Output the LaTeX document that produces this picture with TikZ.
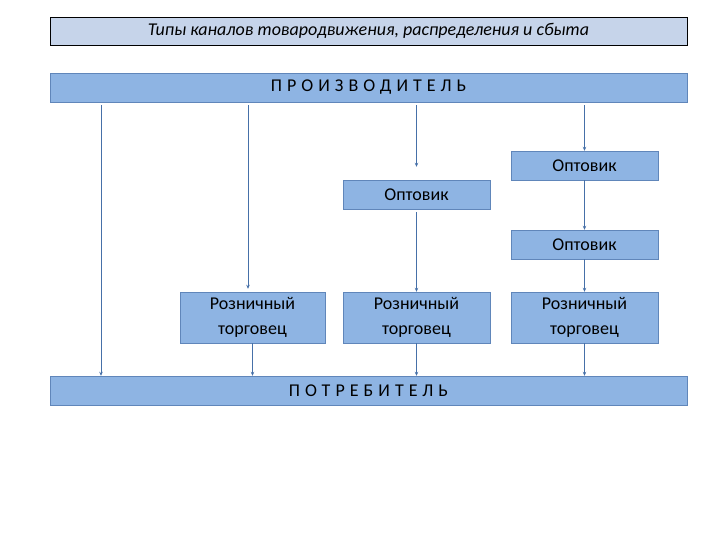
\documentclass[tikz,border=0pt]{standalone}
\usepackage{fontspec}
\setmainfont{Carlito}
\usetikzlibrary{arrows.meta}
\definecolor{barblue}{RGB}{142,180,227}
\definecolor{boxline}{RGB}{96,134,186}
\definecolor{titlefill}{RGB}{198,212,234}
\definecolor{arrowblue}{RGB}{70,112,168}

\begin{document}
\begin{tikzpicture}[x=1pt,y=-1pt,
  bar/.style={draw=boxline, fill=barblue, minimum width=637pt, minimum height=29pt, inner sep=0pt, font=\fontsize{18}{20}\selectfont\addfontfeatures{LetterSpace=28}},
  firm/.style={draw=boxline, fill=barblue, minimum width=147pt, minimum height=29pt, inner sep=0pt, align=center, font=\fontsize{18}{25}\selectfont},
  flow/.style={arrowblue, line width=0.9pt, shorten <=3pt, -{Stealth[length=4pt,width=3.5pt]}}]
  \useasboundingbox (0,0) rectangle (720,540);

%title:
  \node[draw=black, fill=titlefill, minimum width=637pt, minimum height=28pt, inner sep=0pt, font=\fontsize{18}{20}\selectfont\itshape] (title) at (368.5,31) {Типы каналов товародвижения, распределения и сбыта};

%bars:
  \node[bar] (prod) at (368.5,87.5) {ПРОИЗВОДИТЕЛЬ};
  \node[bar] (cons) at (368.5,390.5) {ПОТРЕБИТЕЛЬ};

%wholesalers:
  \node[firm] (opt1) at (584.5,165.5) {Оптовик};
  \node[firm] (opt2) at (416.5,194.5) {Оптовик};
  \node[firm] (opt3) at (584.5,244.5) {Оптовик};

%retailers:
  \node[firm, minimum width=145pt, minimum height=51pt] (ret1) at (252.5,317.5) {Розничный\\торговец};
  \node[firm, minimum height=51pt] (ret2) at (416.5,317.5) {Розничный\\торговец};
  \node[firm, minimum height=51pt] (ret3) at (584.5,317.5) {Розничный\\торговец};

  \coordinate (direct) at (101,0);
  \coordinate (retail) at (248,0);

%channels:
  \draw[flow] (prod.south -| direct) -- (cons.north -| direct);
  \draw[flow, shorten >=3pt] (prod.south -| retail) -- (ret1.north -| retail);
  \draw[flow] (prod.south -| opt2) -- ([yshift=13pt]opt2.north);
  \draw[flow] (opt2) -- (ret2);
  \draw[flow] (prod.south -| opt1) -- (opt1.north);
  \draw[flow, shorten <=0pt] (opt1.south) -- (opt3.north);
  \draw[flow, shorten <=0pt] (opt3.south) -- (ret3.north);
  \foreach \r in {ret1,ret2,ret3}
    \draw[flow, shorten <=0pt] (\r.south) -- (cons.north -| \r);
\end{tikzpicture}
\end{document}
